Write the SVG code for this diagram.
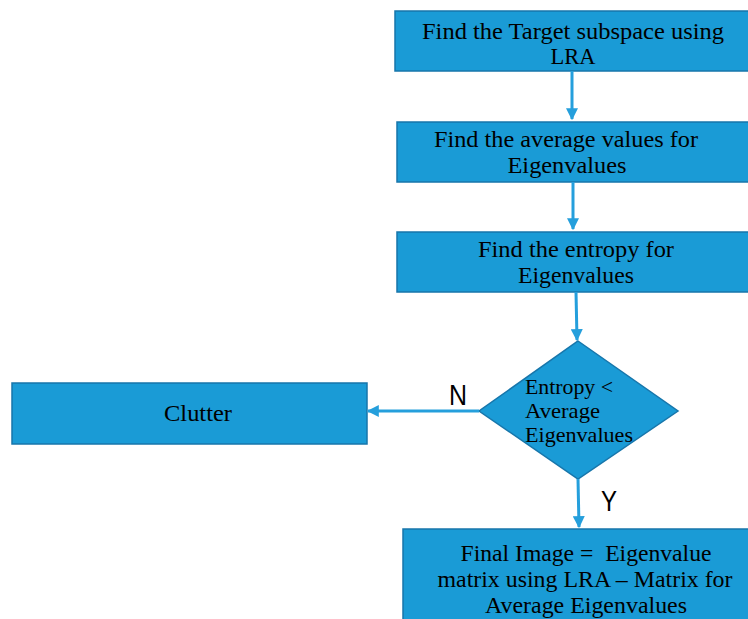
<svg xmlns="http://www.w3.org/2000/svg" width="748" height="619" viewBox="0 0 748 619">
<style>
.box{fill:#1a9bd6;stroke:#1776ab;stroke-width:1.5}
.t{font-family:"Liberation Serif","DejaVu Serif",serif;font-size:23px;fill:#000;text-anchor:middle}
.d{font-family:"Liberation Serif","DejaVu Serif",serif;font-size:21px;fill:#000}
.lab{font-family:"Liberation Sans","Open Sans",sans-serif;font-size:29px;fill:#000}
.c{stroke:#259fdc;stroke-width:3;fill:none;marker-end:url(#ah)}
</style>
<defs>
<marker id="ah" viewBox="0 0 10 10" refX="9" refY="5" markerWidth="4" markerHeight="4" orient="auto" markerUnits="strokeWidth">
<path d="M0,0 L10,5 L0,10 Z" fill="#259fdc"/>
</marker>
</defs>
<rect width="748" height="619" fill="#fff"/>
<g id="n1"><rect class="box" x="395" y="11" width="360" height="60"/>
<text class="t" x="573" y="39" textLength="302" lengthAdjust="spacingAndGlyphs">Find the Target subspace using</text>
<text class="t" x="573" y="64" textLength="45" lengthAdjust="spacingAndGlyphs">LRA</text></g>
<g id="n2"><rect class="box" x="397" y="122" width="360" height="60"/>
<text class="t" x="566" y="147" textLength="264" lengthAdjust="spacingAndGlyphs">Find the average values for</text>
<text class="t" x="567" y="173" textLength="119" lengthAdjust="spacingAndGlyphs">Eigenvalues</text></g>
<g id="n3"><rect class="box" x="397" y="232" width="360" height="60"/>
<text class="t" x="576" y="257" textLength="196" lengthAdjust="spacingAndGlyphs">Find the entropy for</text>
<text class="t" x="576" y="283" textLength="116" lengthAdjust="spacingAndGlyphs">Eigenvalues</text></g>
<g id="n4"><polygon class="box" points="578,341 678,411 578,479 479,411"/>
<text class="d" x="525" y="394" textLength="88" lengthAdjust="spacingAndGlyphs">Entropy &lt;</text>
<text class="d" x="525" y="418" textLength="75" lengthAdjust="spacingAndGlyphs">Average</text>
<text class="d" x="525" y="442" textLength="108" lengthAdjust="spacingAndGlyphs">Eigenvalues</text></g>
<g id="n5"><rect class="box" x="12" y="383" width="355" height="61"/>
<text class="t" x="198" y="421" textLength="68" lengthAdjust="spacingAndGlyphs">Clutter</text></g>
<g id="n6"><rect class="box" x="403" y="529" width="360" height="100"/>
<text class="t" x="586" y="561" textLength="251" lengthAdjust="spacingAndGlyphs" xml:space="preserve">Final Image =  Eigenvalue</text>
<text class="t" x="585" y="587" textLength="295" lengthAdjust="spacingAndGlyphs">matrix using LRA – Matrix for</text>
<text class="t" x="586" y="613" textLength="202" lengthAdjust="spacingAndGlyphs">Average Eigenvalues</text></g>
<g id="connectors">
<line class="c" x1="572" y1="71" x2="572" y2="119"/>
<line class="c" x1="573" y1="182" x2="573" y2="229"/>
<line class="c" x1="576" y1="292" x2="577" y2="340"/>
<line class="c" x1="479" y1="411" x2="368" y2="411"/>
<line class="c" x1="578" y1="479" x2="579" y2="527"/>
<text class="lab" x="449" y="405" textLength="18" lengthAdjust="spacingAndGlyphs">N</text>
<text class="lab" x="601" y="511" textLength="16" lengthAdjust="spacingAndGlyphs">Y</text>
</g>
</svg>
